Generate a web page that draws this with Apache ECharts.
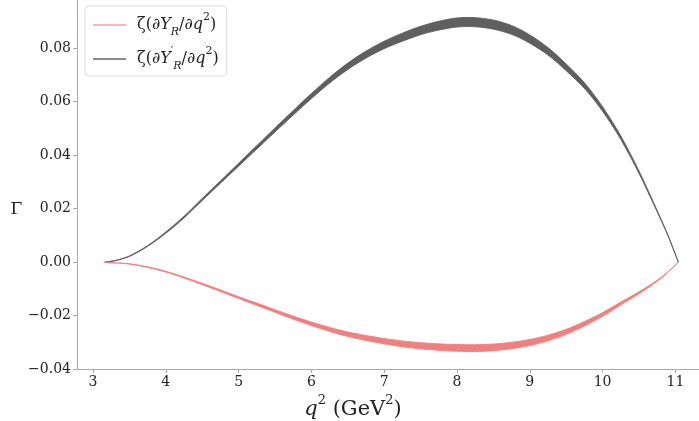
<!DOCTYPE html>
<html>
<head>
<meta charset="utf-8">
<script src="https://cdn.jsdelivr.net/npm/echarts@6/dist/echarts.min.js"></script>
<style>
  html, body { margin: 0; padding: 0; background: #fff; }
  #chart { width: 699px; height: 421px; }
</style>
</head>
<body>
<div id="chart"></div>
<script>
// q^2 sample points (GeV^2)
const q2 = [3.16, 3.3, 3.5, 3.75, 4.0, 4.25, 4.5, 4.75, 5.0, 5.25, 5.5, 5.75, 6.0, 6.25, 6.5, 6.75,
  7.0, 7.25, 7.5, 7.75, 8.0, 8.25, 8.5, 8.75, 9.0, 9.25, 9.5, 9.75, 10.0, 10.25, 10.5, 10.75, 10.9, 11.04];

// zeta(dY'_R/dq2) band, lower and upper edges (gray)
const primeLow = [0, 0.00045, 0.0021, 0.00585, 0.01075, 0.0165, 0.0230, 0.02945, 0.03585, 0.04225,
  0.04865, 0.05495, 0.06115, 0.06695, 0.0720, 0.0763, 0.0798, 0.0826, 0.08505, 0.08675, 0.0879,
  0.0880, 0.0871, 0.08515, 0.08185, 0.0774, 0.07155, 0.06495, 0.05635, 0.04585, 0.03315, 0.01875, 0.0097, 0];
const primeHigh = [0, 0.00055, 0.0023, 0.00615, 0.01125, 0.0171, 0.0238, 0.03035, 0.03695, 0.04355,
  0.05015, 0.05665, 0.06305, 0.06905, 0.0744, 0.0789, 0.0826, 0.0856, 0.08815, 0.09005, 0.0913,
  0.0914, 0.0905, 0.08845, 0.08495, 0.0802, 0.07405, 0.06705, 0.05805, 0.04715, 0.03405, 0.01925, 0.0099, 0];

// zeta(dY_R/dq2) band, lower and upper edges (red)
const plainLow = [0, -0.0003, -0.00075, -0.0020, -0.00375, -0.0060, -0.00845, -0.0110, -0.01365, -0.01625,
  -0.0188, -0.0214, -0.02375, -0.02595, -0.02785, -0.02935, -0.0306, -0.0317, -0.03245, -0.0330, -0.03335,
  -0.0335, -0.03315, -0.0324, -0.03125, -0.02945, -0.02705, -0.02395, -0.0203, -0.01605, -0.0119, -0.0072, -0.0038, 0];
const plainHigh = [0, -0.0003, -0.00065, -0.0018, -0.00345, -0.0056, -0.00795, -0.0104, -0.01295, -0.01535,
  -0.0178, -0.0202, -0.02245, -0.02445, -0.02615, -0.02745, -0.0286, -0.0295, -0.03015, -0.0306, -0.03085,
  -0.0309, -0.03065, -0.0300, -0.02895, -0.02735, -0.02515, -0.02225, -0.0189, -0.01495, -0.0111, -0.0068, -0.0036, 0];

const xTicks = [3, 4, 5, 6, 7, 8, 9, 10, 11];
const yTicks = [-0.04, -0.02, 0.0, 0.02, 0.04, 0.06, 0.08];

const nameR = 'zetaR';
const namePrime = 'zetaRprime';
const red = '#f08080';
const gray = '#5f5f5f';

const serif = '"DejaVu Serif", "Liberation Serif", serif';

// rows [x, low, high] for the custom band series
function bandRows(lo, hi) {
  return q2.map((x, i) => [x, lo[i], hi[i]]);
}

// fill_between: one polygon through all the rows, drawn once
function bandRenderer(rows, color) {
  return function (params, api) {
    if (params.dataIndex !== 0) return null;
    const top = rows.map(r => api.coord([r[0], r[2]]));
    const bottom = rows.map(r => api.coord([r[0], r[1]])).reverse();
    return {
      type: 'polygon',
      shape: { points: top.concat(bottom), smooth: 0.3 },
      style: { fill: color, stroke: color, lineWidth: 0.9 }
    };
  };
}

const primeRows = bandRows(primeLow, primeHigh);
const plainRows = bandRows(plainLow, plainHigh);

const chart = echarts.init(document.getElementById('chart'), null, { renderer: 'canvas' });

const option = {
  animation: false,
  backgroundColor: '#fff',
  grid: { left: 77, right: 0, top: 0, bottom: 52, containLabel: false, outerBoundsMode: 'none' },
  legend: {
    orient: 'vertical',
    left: 85,
    top: 6,
    padding: [6, 8, 4, 8],
    itemGap: 8,
    itemWidth: 33,
    itemHeight: 2,
    backgroundColor: '#fff',
    borderColor: '#dcdcdc',
    borderWidth: 1,
    borderRadius: 4,
    data: [
      { name: nameR, icon: 'rect', itemStyle: { color: '#f6b9b9' } },
      { name: namePrime, icon: 'rect', itemStyle: { color: '#8a8a8a' } }
    ],
    formatter: function (name) {
      if (name === nameR) {
        return '{n|ζ(∂}{i|Y}{b|R}{n|/∂}{i|q}{t|2}{n|)}';
      }
      return '{n|ζ(∂}{i|Y}{t|′}{b|R}{n|/∂}{i|q}{t|2}{n|)}';
    },
    textStyle: {
      padding: [0, 0, 0, 6],
      rich: {
        n: { fontFamily: serif, fontSize: 16, color: '#222', lineHeight: 22, verticalAlign: 'middle' },
        i: { fontFamily: serif, fontSize: 16, fontStyle: 'italic', color: '#222', lineHeight: 22, verticalAlign: 'middle' },
        b: { fontFamily: serif, fontSize: 11, fontStyle: 'italic', color: '#222', lineHeight: 11, verticalAlign: 'bottom', padding: [0, 0, -2, 0] },
        t: { fontFamily: serif, fontSize: 11, color: '#222', lineHeight: 11, verticalAlign: 'top', padding: [-2, 0, 0, 0] }
      }
    }
  },
  xAxis: {
    type: 'value',
    min: 2.78,
    max: 11.324,
    name: '{i|q}{t|2}{n| (GeV}{t|2}{n|)}',
    nameLocation: 'middle',
    nameGap: 22,
    nameTextStyle: {
      padding: [0, 70, 0, 0],
      rich: {
        n: { fontFamily: serif, fontSize: 21, color: '#222', lineHeight: 26, verticalAlign: 'middle' },
        i: { fontFamily: serif, fontSize: 21, fontStyle: 'italic', color: '#222', lineHeight: 26, verticalAlign: 'middle' },
        t: { fontFamily: serif, fontSize: 13, color: '#222', lineHeight: 13, verticalAlign: 'top', padding: [-3, 0, 0, 0] }
      }
    },
    splitLine: { show: false },
    axisLine: { onZero: false, lineStyle: { color: '#a8a8a8', width: 1 } },
    axisTick: { show: true, length: 4, customValues: xTicks, lineStyle: { color: '#a8a8a8' } },
    axisLabel: {
      customValues: xTicks,
      fontFamily: serif, fontSize: 14, color: '#222', margin: 6,
      formatter: v => String(v)
    }
  },
  yAxis: {
    type: 'value',
    min: -0.04,
    max: 0.098,
    name: '\n\n\nΓ',
    nameLocation: 'middle',
    nameRotate: 0,
    nameGap: 49,
    nameTextStyle: { fontFamily: serif, fontSize: 17, lineHeight: 17, color: '#222' },
    splitLine: { show: false },
    axisLine: { show: true, onZero: false, lineStyle: { color: '#a8a8a8', width: 1 } },
    axisTick: { show: true, length: 4, customValues: yTicks, lineStyle: { color: '#a8a8a8' } },
    axisLabel: {
      customValues: yTicks,
      fontFamily: serif, fontSize: 14, color: '#222', margin: 6,
      formatter: v => (v < -1e-9 ? '\u2212' : '') + Math.abs(v).toFixed(2)
    }
  },
  series: [
    {
      name: namePrime, type: 'custom', data: primeRows, encode: { x: 0, y: [1, 2] },
      renderItem: bandRenderer(primeRows, gray), itemStyle: { color: gray }, silent: true, z: 2
    },
    {
      name: nameR, type: 'custom', data: plainRows, encode: { x: 0, y: [1, 2] },
      renderItem: bandRenderer(plainRows, red), itemStyle: { color: red }, silent: true, z: 3
    }
  ]
};

chart.setOption(option);
</script>
</body>
</html>
